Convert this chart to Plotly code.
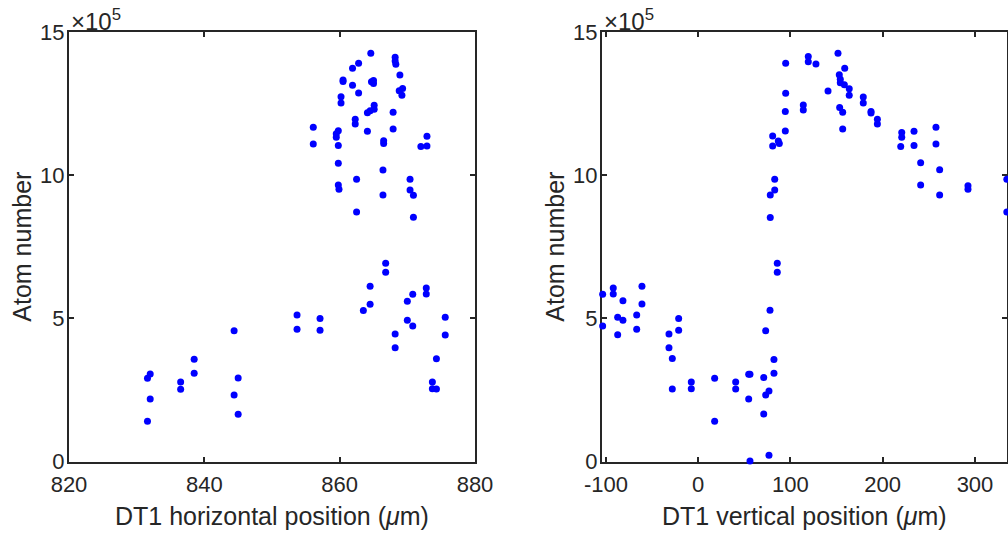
import plotly.graph_objects as go

# DT1 horizontal position (um) vs atom number (x1e5)
h_pos = [831.6, 832.0, 832.0, 831.6, 836.5, 836.5, 838.5, 838.5, 844.4, 845.0, 844.4, 845.0, 853.7, 853.7,
         857.1, 857.1, 864.5, 864.5, 863.5, 866.8, 866.8, 868.2, 868.2, 870.0, 870.8, 870.0, 870.8, 872.8, 872.8,
         875.6, 875.6, 874.3, 873.7, 873.7, 874.3,
         864.6, 868.2, 868.2, 868.3, 862.8, 861.9, 868.9, 860.5, 860.5, 861.9, 864.7, 865.0, 865.0, 862.8, 869.3,
         868.8, 869.2, 860.2, 860.2, 865.1, 865.1, 864.5, 864.1, 867.9, 862.3, 862.3, 856.1, 856.1, 859.8, 859.5,
         859.5, 859.8, 864.1, 867.9, 866.5, 866.5, 872.9, 872.0, 872.9, 859.8, 866.4, 862.5, 859.8, 859.9, 870.4,
         870.4, 870.9, 866.4, 862.5, 870.9]
h_atoms = [2.91, 3.06, 2.18, 1.41, 2.78, 2.52, 3.57, 3.08, 4.57, 2.92, 2.32, 1.65, 5.12, 4.62,
           4.99, 4.58, 6.12, 5.49, 5.27, 6.92, 6.61, 4.45, 3.97, 5.60, 5.84, 4.93, 4.73, 6.06, 5.85,
           5.04, 4.42, 3.59, 2.78, 2.54, 2.53,
           14.26, 14.12, 13.99, 13.87, 13.91, 13.73, 13.5, 13.32, 13.27, 13.14, 13.26, 13.31, 13.2, 12.87, 13.03,
           12.95, 12.79, 12.74, 12.52, 12.44, 12.3, 12.25, 12.18, 12.2, 11.95, 11.79, 11.67, 11.09, 11.55, 11.45,
           11.32, 11.04, 11.53, 11.61, 11.2, 11.11, 11.36, 11.0, 11.02, 10.42, 10.18, 9.86, 9.66, 9.51, 9.86,
           9.48, 9.3, 9.31, 8.71, 8.53]

# DT1 vertical position (um) vs atom number (x1e5)
v_pos = [-103.6, -103.6, -92.1, -92.1, -81.6, -87.3, -81.6, -87.3, -61.0, -61.0,
         -66.7, -66.7, -21.2, -21.2, -31.7, -31.7, -28.1, -28.1, -7.5, -7.5,
         17.8, 17.8, 40.6, 40.6, 54.7, 56.1, 54.7, 56.1, 71.0, 71.0,
         73.1, 76.7, 76.7, 73.1, 77.8, 82.1, 82.1, 85.7, 85.7,
         94.8, 94.8, 94.4, 94.4, 80.7, 80.7, 86.8, 87.9, 82.9, 82.9, 78.1, 78.1, 113.9, 113.9,
         119.3, 119.3, 127.6, 151.5, 158.8, 152.9, 154.0, 154.0, 158.4, 163.7,
         163.7, 140.7, 153.3, 156.6, 156.6, 178.9, 178.9, 187.3, 187.3, 194.2,
         194.2, 220.6, 220.6, 219.5, 233.9, 233.9, 257.7, 257.7, 241.1, 241.1,
         261.7, 261.7, 292.4, 292.4, 334.5, 334.5]
v_atoms = [5.84, 4.73, 6.06, 5.85, 5.61, 5.04, 4.93, 4.43, 6.12, 5.50,
           5.12, 4.62, 4.99, 4.58, 4.45, 3.97, 3.6, 2.53, 2.78, 2.54,
           2.91, 1.41, 2.78, 2.53, 3.05, 3.05, 2.18, 0.02, 2.93, 1.66,
           2.32, 2.46, 0.22, 4.57, 5.28, 3.56, 3.08, 6.92, 6.61,
           13.91, 12.86, 12.22, 11.54, 11.37, 11.02, 11.19, 11.11, 9.86, 9.48, 9.31, 8.52, 12.45, 12.28,
           14.14, 13.96, 13.88, 14.26, 13.73, 13.51, 13.35, 13.23, 13.16, 13.02,
           12.79, 12.94, 12.36, 12.2, 11.61, 12.73, 12.52, 12.22, 12.17, 11.95,
           11.79, 11.49, 11.32, 11.0, 11.53, 11.04, 11.67, 11.09, 10.43, 9.66,
           10.19, 9.31, 9.63, 9.51, 9.86, 8.71]

h_ticks = [820, 840, 860, 880]
v_ticks = [-100, 0, 100, 200, 300]
v_ticklabels = ["-100", "0", "100", "200", "300"]
y_ticks = [0, 5, 10, 15]

W, H = 1008, 535
AX = "#262626"
FONT = "Liberation Sans, Arial, Helvetica, sans-serif"

fig = go.Figure()
fig.add_trace(go.Scatter(x=h_pos, y=h_atoms, mode="markers", xaxis="x", yaxis="y",
                         marker=dict(color="#0000FF", size=7), cliponaxis=False, showlegend=False))
fig.add_trace(go.Scatter(x=v_pos, y=v_atoms, mode="markers", xaxis="x2", yaxis="y2",
                         marker=dict(color="#0000FF", size=7), cliponaxis=False, showlegend=False))

def xpx(p):
    return p / W

def ypx(p):
    return 1 - p / H

common = dict(showline=True, linecolor=AX, linewidth=2, mirror="ticks", ticks="inside",
              ticklen=5, tickwidth=2, tickcolor=AX, showgrid=False, zeroline=False,
              tickfont=dict(family=FONT, size=22, color=AX), layer="below traces")

fig.update_layout(
    width=W, height=H, margin=dict(l=0, r=0, t=0, b=0, autoexpand=False),
    paper_bgcolor="white", plot_bgcolor="white",
    font=dict(family=FONT, color=AX),
    xaxis=dict(domain=[xpx(69), xpx(475)], range=[820, 880], tickvals=h_ticks, anchor="y",
               ticklabelstandoff=2, **common),
    yaxis=dict(domain=[ypx(461.5), ypx(32)], range=[0, 15], tickvals=y_ticks, anchor="x",
               ticklabelstandoff=-2, **common),
    xaxis2=dict(domain=[xpx(602), xpx(1007)], range=[-104.3, 334.7], tickvals=v_ticks,
                ticktext=v_ticklabels, anchor="y2", ticklabelstandoff=2, **common),
    yaxis2=dict(domain=[ypx(461.5), ypx(32)], range=[0, 15], tickvals=y_ticks, anchor="x2",
                ticklabelstandoff=-2, **common),
)

ann = []
for xc, label in [(272, "DT1 horizontal position (<i>μ</i>m)"), (804.5, "DT1 vertical position (<i>μ</i>m)")]:
    ann.append(dict(text=label, xref="paper", yref="paper", x=xpx(xc), y=ypx(516), xanchor="center",
                    yanchor="middle", showarrow=False, font=dict(family=FONT, size=25, color=AX)))
for xc in [22, 555]:
    ann.append(dict(text="Atom number", xref="paper", yref="paper", x=xpx(xc), y=ypx(246.7), xanchor="center",
                    yanchor="middle", textangle=-90, showarrow=False, font=dict(family=FONT, size=25, color=AX)))
for xl in [69, 602]:
    ann.append(dict(text="×10<sup>5</sup>", xref="paper", yref="paper", x=xpx(xl), y=ypx(20), xanchor="left",
                    yanchor="middle", showarrow=False, font=dict(family=FONT, size=24, color=AX)))
fig.update_layout(annotations=ann)

fig.write_html("out.html")
